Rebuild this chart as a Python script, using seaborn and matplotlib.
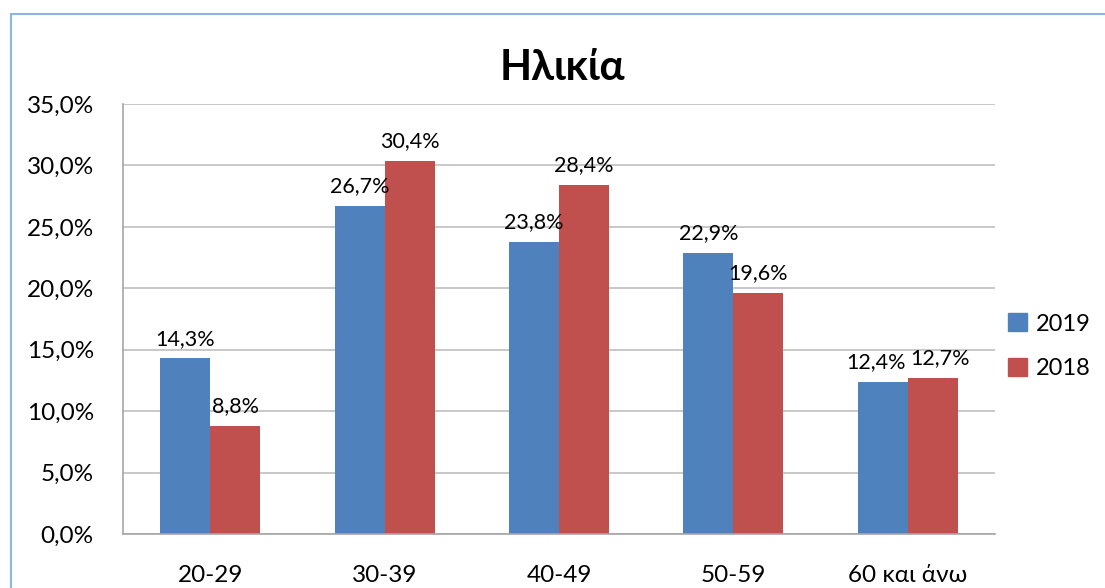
import matplotlib.pyplot as plt
import matplotlib.patches as mpatches
import seaborn as sns
import pandas as pd

categories = ["20-29", "30-39", "40-49", "50-59", "60 και άνω"]
years = ["2019", "2018"]
values_2019 = [14.3, 26.7, 23.8, 22.9, 12.4]
values_2018 = [8.8, 30.4, 28.4, 19.6, 12.7]
colors = ["#4F81BD", "#C0504D"]

df = pd.DataFrame({
    "cat": categories * 2,
    "year": [years[0]] * 5 + [years[1]] * 5,
    "val": values_2019 + values_2018,
})

sns.set_style("white")
plt.rcParams["font.family"] = ["Lato", "Open Sans", "DejaVu Sans"]
plt.rcParams["text.color"] = "black"
plt.rcParams["xtick.color"] = "black"
plt.rcParams["ytick.color"] = "black"

fig = plt.figure(figsize=(11.05, 5.88), dpi=100)
ax = fig.add_axes([0.1113, 0.0918, 0.7892, 0.7313])

sns.barplot(data=df, x="cat", y="val", hue="year", palette=colors,
            width=0.574, saturation=1, linewidth=0, ax=ax, legend=False)

ax.set_ylim(0, 35)
ax.set_xlim(-0.5, 4.5)
ax.set_yticks(range(0, 36, 5))
ax.set_yticklabels([f"{t:.1f}%".replace(".", ",") for t in range(0, 36, 5)], fontsize=17.5)
ax.tick_params(axis="x", labelsize=17.5, length=0, pad=22)
ax.tick_params(axis="y", length=0, pad=21)
ax.set_xlabel("")
ax.set_ylabel("")
ax.yaxis.grid(True, color="#BFBFBF", linewidth=1.2)
ax.set_axisbelow(True)
for s in ["top", "right"]:
    ax.spines[s].set_visible(False)
for s in ["left", "bottom"]:
    ax.spines[s].set_color("#A6A6A6")
    ax.spines[s].set_linewidth(1.2)

# labels above bars; the last pair is pushed apart a little, like the original
shifts = [-5, 5]
for cont, dx in zip(ax.containers, shifts):
    anns = ax.bar_label(cont, labels=[f"{v:.1f}%".replace(".", ",") for v in cont.datavalues],
                        fontsize=15.5, padding=7)
    anns[-1].xyann = (dx, 7)

fig.text(0.509, 0.884, "Ηλικία", ha="center", va="center", fontsize=30, fontweight="bold")

handles = [mpatches.Patch(color=c, label=y) for c, y in zip(colors, years)]
fig.legend(handles=handles, loc="center left", bbox_to_anchor=(0.912, 0.411),
           frameon=False, fontsize=17, handlelength=0.8, handleheight=0.8,
           handletextpad=0.4, labelspacing=1.0, borderpad=0, borderaxespad=0)

border = mpatches.Rectangle((11 / 1105, -0.05), 1.1, 1 - 14 / 588 + 0.05,
                            transform=fig.transFigure, fill=False,
                            edgecolor="#8EB4E3", linewidth=1.5)
fig.patches.append(border)

plt.savefig("out.png", dpi=100)
plt.close()
